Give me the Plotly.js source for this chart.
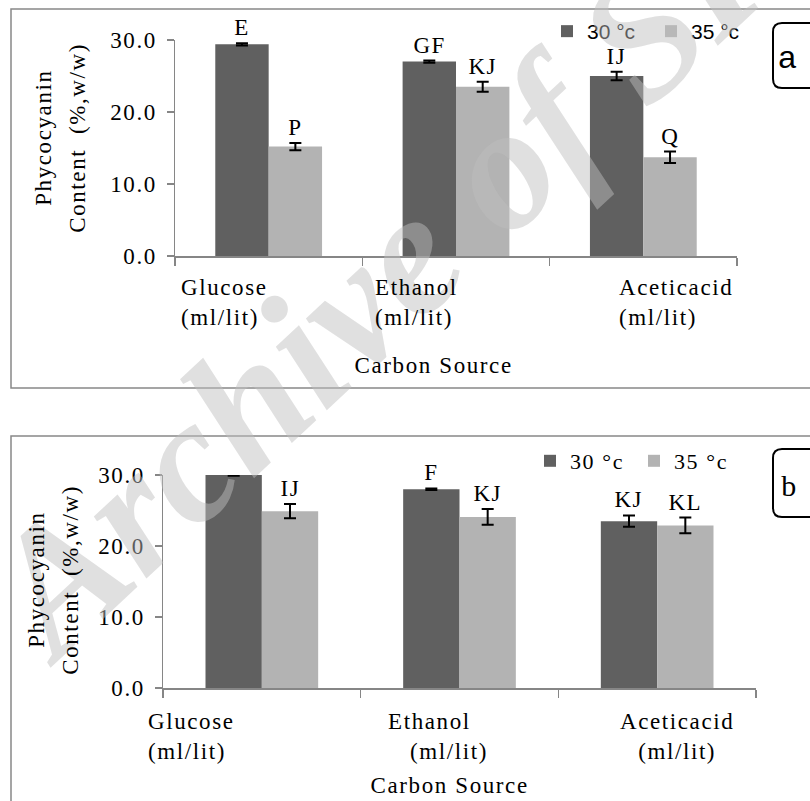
<!DOCTYPE html>
<html><head><meta charset="utf-8">
<script src="https://cdn.plot.ly/plotly-3.0.1.min.js"></script>
<style>
html,body{margin:0;padding:0;background:#fff}
#chart text{letter-spacing:1.6px}
#chart text.legendtext{letter-spacing:0}
#chart g.annotation[data-index="0"] text{letter-spacing:0}
</style>
</head><body><div id="chart" style="width:810px;height:801px"></div>
<script>
// ---- data ----
const categories = ["Glucose", "Ethanol", "Aceticacid"];
const seriesNames = ["30 °c", "35 °c"];
const a30 = [29.4, 27.0, 25.0];
const a30Err = [0.15, 0.15, 0.6];
const a35 = [15.2, 23.5, 13.7];
const a35Err = [0.5, 0.7, 0.8];
const b30 = [30.0, 28.0, 23.5];
const b30Err = [0.1, 0.1, 0.8];
const b35 = [24.9, 24.1, 22.9];
const b35Err = [1.0, 1.1, 1.1];
const a30Letters = ["E", "GF", "IJ"];
const a35Letters = ["P", "KJ", "Q"];
const b30Letters = ["", "F", "KJ"];
const b35Letters = ["IJ", "KJ", "KL"];
const tickLabelsA = ["Glucose<br>(ml/lit)", "Ethanol<br>(ml/lit)", "Aceticacid<br>(ml/lit)"];
const tickLabelsB = ["Glucose<br>(ml/lit)", "Ethanol<br>&nbsp;&nbsp;&nbsp;(ml/lit)", "Aceticacid<br>(ml/lit)"];
const yTicks = [0, 10, 20, 30];
const yTitleLines = ["Phycocyanin", "Content  (%,w/w)"];
const xTitle = "Carbon Source";
const panelLetters = ["a", "b"];
const watermark = "Archive of SID";

// ---- styling / layout helpers ----
const W = 810, H = 801;
const px = x => x / W;
const py = y => 1 - y / H;
const SERIF = "Liberation Serif, Times New Roman, serif";
const SANS = "Liberation Sans, Arial, sans-serif";
const DARK = "#606060", LIGHT = "#b3b3b3", AX = "#868686";
const FS = 23;
const BARGAP = 0.43;
const off = (1 - BARGAP) / 4;
const txt = (size, fam) => ({family: fam || SERIF, size: size || FS, color: "#000"});

function errStyle(arr) {
  return {type: "data", array: arr, visible: true, color: "#000", thickness: 2, width: 6};
}
const traces = [
  {type: "bar", x: categories, y: a30, name: seriesNames[0], marker: {color: DARK}, error_y: errStyle(a30Err), xaxis: "x", yaxis: "y", legend: "legend", cliponaxis: false},
  {type: "bar", x: categories, y: a35, name: seriesNames[1], marker: {color: LIGHT}, error_y: errStyle(a35Err), xaxis: "x", yaxis: "y", legend: "legend", cliponaxis: false},
  {type: "bar", x: categories, y: b30, name: seriesNames[0], marker: {color: DARK}, error_y: errStyle(b30Err), xaxis: "x2", yaxis: "y2", legend: "legend2", cliponaxis: false},
  {type: "bar", x: categories, y: b35, name: seriesNames[1], marker: {color: LIGHT}, error_y: errStyle(b35Err), xaxis: "x2", yaxis: "y2", legend: "legend2", cliponaxis: false}
];

function xAxis(dom, anchor) {
  return {domain: dom, anchor: anchor, type: "category", range: [-0.5, 2.5], showline: true, linecolor: AX, linewidth: 1.5,
    ticks: "outside", tickson: "boundaries", ticklen: 8, tickcolor: AX, tickwidth: 1.5, showticklabels: false,
    showgrid: false, zeroline: false, fixedrange: true, automargin: false};
}
function yAxis(dom, anchor) {
  return {domain: dom, anchor: anchor, range: [0, 30], tickvals: yTicks, ticktext: yTicks.map(v => v.toFixed(1)),
    ticks: "outside", ticklen: 7, tickcolor: AX, tickwidth: 1.5, showline: true, linecolor: AX, linewidth: 1.5,
    tickfont: txt(), showgrid: false, zeroline: false, ticklabelstandoff: 5,
    fixedrange: true, automargin: false};
}

const ann = [];
// watermark first (index 0)
ann.push({text: watermark, xref: "paper", yref: "paper", x: px(415), y: py(246), xanchor: "center", yanchor: "middle",
  textangle: -43, showarrow: false,
  font: {family: SERIF, size: 177, style: "italic", weight: 700, color: "rgba(190,190,190,0.48)"}});

function letters(list, vals, errs, sign, xr, yr) {
  list.forEach((t, i) => {
    if (!t) return;
    ann.push({text: t, x: i + sign * off, y: vals[i] + errs[i], xref: xr, yref: yr, xanchor: "center", yanchor: "bottom", yshift: 1,
      showarrow: false, font: txt()});
  });
}
letters(a30Letters, a30, a30Err, -1, "x", "y");
letters(a35Letters, a35, a35Err, 1, "x", "y");
letters(b30Letters, b30, b30Err, -1, "x2", "y2");
letters(b35Letters, b35, b35Err, 1, "x2", "y2");

// category labels
const labA = {x: [179, 373, 617], align: ["left", "left", "left"], top: 273};
const labB = {x: [146, 386, 626], align: ["left", "left", "center"], top: 707};
tickLabelsA.forEach((t, i) => ann.push({text: t, xref: "paper", yref: "paper", x: px(labA.x[i]), y: py(labA.top),
  xanchor: "left", yanchor: "top", align: labA.align[i], showarrow: false, font: txt()}));
tickLabelsB.forEach((t, i) => ann.push({text: t, xref: "paper", yref: "paper", x: px(labB.x[i]), y: py(labB.top),
  xanchor: "left", yanchor: "top", align: labB.align[i], showarrow: false, font: txt()}));

// axis titles
const yTitlePos = [{x: [44, 78], y: 138}, {x: [36, 70], y: 580}];
yTitlePos.forEach(p => yTitleLines.forEach((t, k) => ann.push({text: t, xref: "paper", yref: "paper", x: px(p.x[k]), y: py(p.y),
  xanchor: "center", yanchor: "middle", textangle: -90, showarrow: false, font: txt()})));
const xTitlePos = [{x: 433, y: 365}, {x: 449, y: 785}];
xTitlePos.forEach(p => ann.push({text: xTitle, xref: "paper", yref: "paper", x: px(p.x), y: py(p.y),
  xanchor: "center", yanchor: "middle", showarrow: false, font: txt()}));

// panel letters
ann.push({text: panelLetters[0], xref: "paper", yref: "paper", x: px(788), y: py(57), xanchor: "center", yanchor: "middle",
  showarrow: false, font: txt(32, SANS)});
ann.push({text: panelLetters[1], xref: "paper", yref: "paper", x: px(789), y: py(485), xanchor: "center", yanchor: "middle",
  showarrow: false, font: txt(30)});

function rrect(x0, y0, x1, y1, r) {
  return `M ${px(x0 + r)},${py(y0)} L ${px(x1)},${py(y0)} L ${px(x1)},${py(y1)} L ${px(x0 + r)},${py(y1)} ` +
    `Q ${px(x0)},${py(y1)} ${px(x0)},${py(y1 - r)} L ${px(x0)},${py(y0 + r)} Q ${px(x0)},${py(y0)} ${px(x0 + r)},${py(y0)} Z`;
}
const shapes = [
  {type: "rect", xref: "paper", yref: "paper", x0: px(11), x1: px(830), y0: py(9), y1: py(388), line: {color: "#888", width: 1.5}},
  {type: "rect", xref: "paper", yref: "paper", x0: px(11), x1: px(830), y0: py(436), y1: py(830), line: {color: "#888", width: 1.5}},
  {type: "path", xref: "paper", yref: "paper", path: rrect(773, 23, 830, 88, 9), line: {color: "#000", width: 2}},
  {type: "path", xref: "paper", yref: "paper", path: rrect(773, 449, 830, 517, 9), line: {color: "#000", width: 2}}
];

const layout = {
  width: W, height: H, margin: {l: 0, r: 0, t: 0, b: 0, autoexpand: false}, paper_bgcolor: "#fff", plot_bgcolor: "rgba(0,0,0,0)",
  barmode: "group", bargap: BARGAP, bargroupgap: 0,
  xaxis: xAxis([px(175), px(737)], "y"),
  yaxis: yAxis([py(256), py(40)], "x"),
  xaxis2: xAxis([px(163), px(756)], "y2"),
  yaxis2: yAxis([py(688), py(475)], "x2"),
  legend: {x: px(547), y: py(11), xanchor: "left", yanchor: "top", orientation: "h", bgcolor: "rgba(0,0,0,0)",
    font: txt(21, SANS), entrywidth: 59, entrywidthmode: "pixels", itemwidth: 30},
  legend2: {x: px(530), y: py(440), xanchor: "left", yanchor: "top", orientation: "h", bgcolor: "rgba(0,0,0,0)",
    font: txt(22), entrywidth: 59, entrywidthmode: "pixels", itemwidth: 30},
  annotations: ann, shapes: shapes, showlegend: true
};
Plotly.newPlot("chart", traces, layout, {displayModeBar: false, staticPlot: true});
</script></body></html>
